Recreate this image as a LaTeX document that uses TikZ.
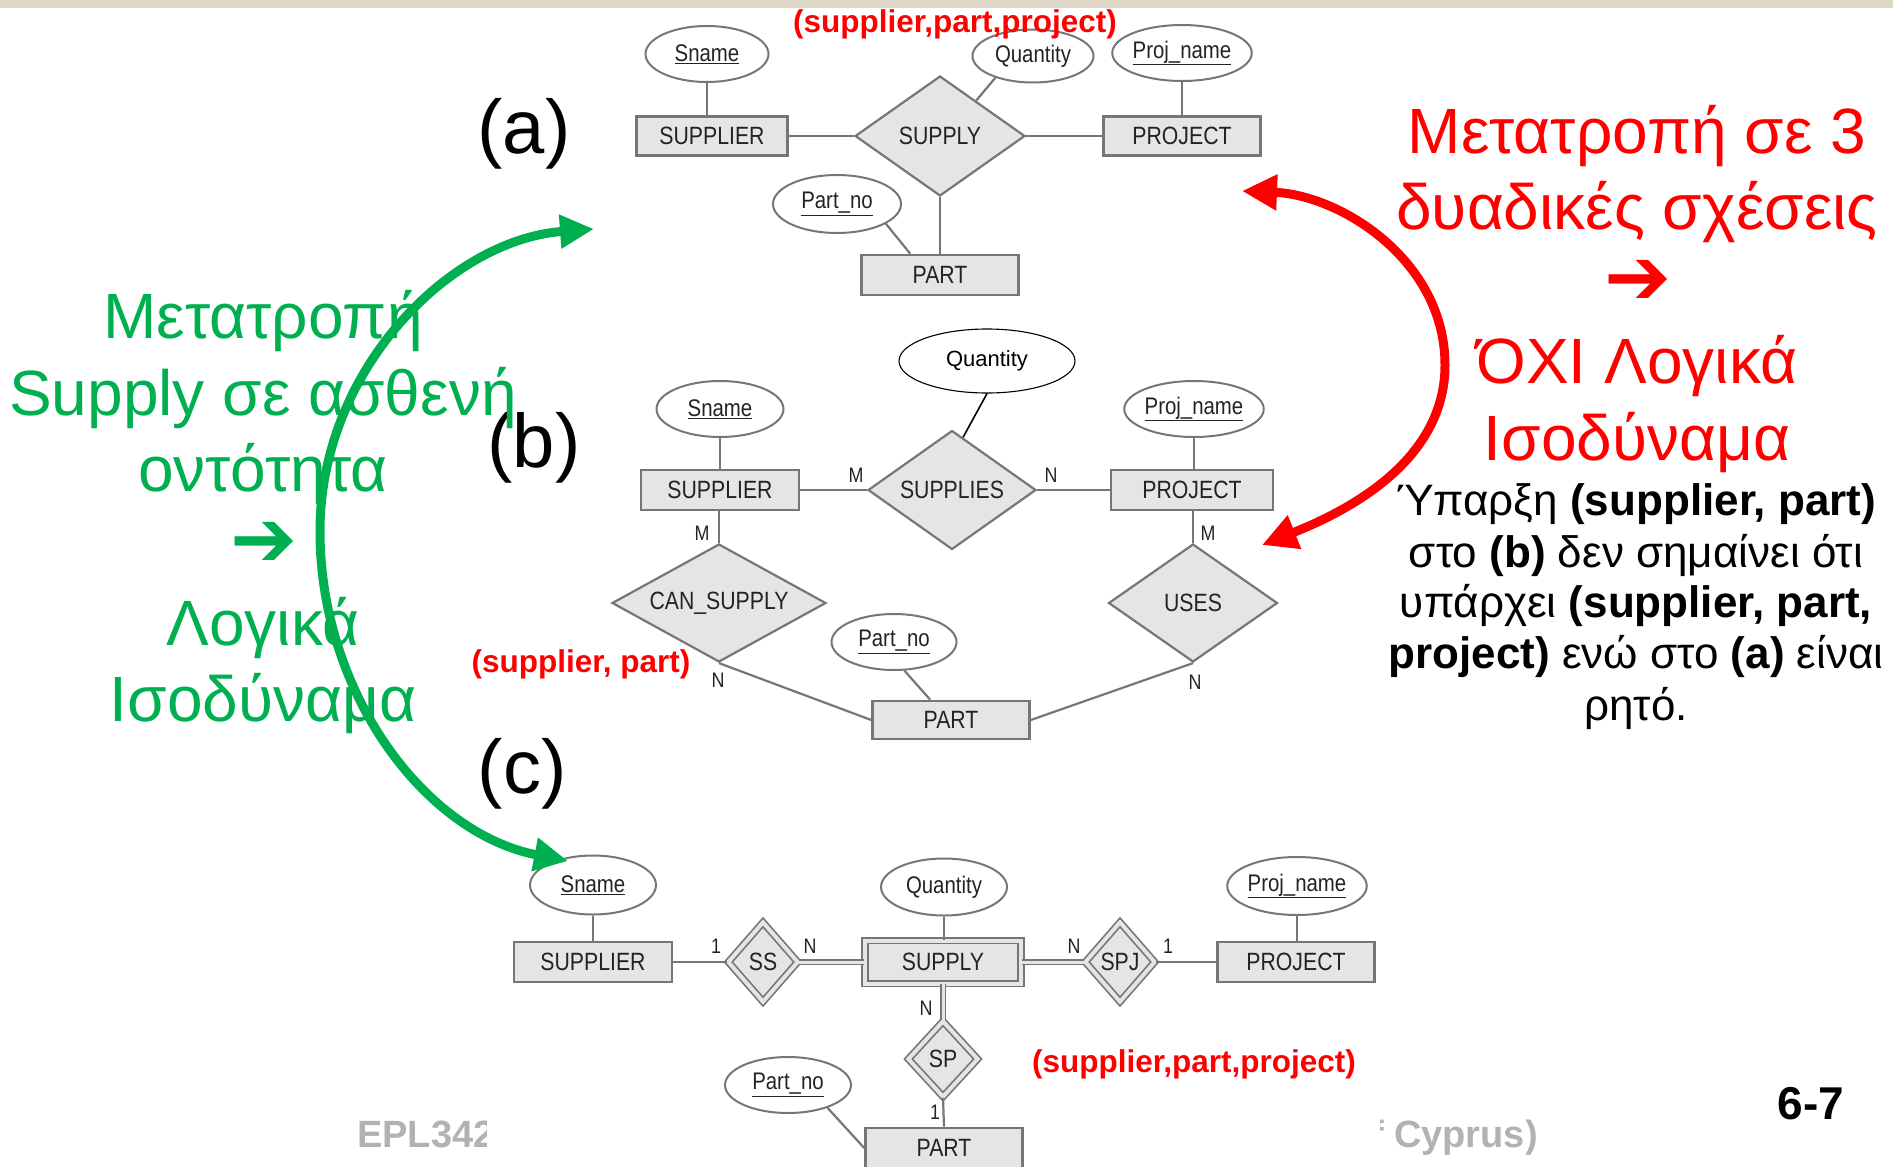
\documentclass[tikz,border=0pt]{standalone}
\usepackage{fontspec}
\setmainfont{Liberation Sans}
\newfontfamily\erfont[FakeStretch=0.85]{Liberation Sans}
\newfontfamily\symfont{DejaVu Sans}
\usetikzlibrary{shapes.geometric,arrows.meta,calc}
\newcommand{\setfs}[1]{\fontsize{#1}{#1}\selectfont}
\definecolor{bandbeige}{RGB}{222,215,199}
\definecolor{slidegreen}{RGB}{0,176,80}
\definecolor{slidered}{RGB}{255,0,0}
\definecolor{erstroke}{RGB}{118,118,118}
\definecolor{erfill}{RGB}{229,229,229}
\definecolor{ertext}{RGB}{35,35,35}
\definecolor{footgray}{RGB}{178,178,178}
\begin{document}
\begin{tikzpicture}[x=1pt,y=-1pt,
  ent/.style={rectangle, draw=erstroke, fill=erfill, line width=2.6pt, inner sep=0pt,
    font=\erfont\setfs{25}, text=ertext},
  went/.style={ent, line width=1.8pt, double=erfill, double distance=4pt},
  rel/.style={diamond, draw=erstroke, fill=erfill, line width=2.2pt, inner sep=0pt,
    font=\erfont\setfs{25}, text=ertext},
  wrel/.style={rel, line width=1.7pt, double=erfill, double distance=4pt},
  attr/.style={ellipse, draw=erstroke, fill=white, line width=2pt, inner sep=0pt,
    font=\erfont\setfs{24}, text=ertext},
  plainattr/.style={ellipse, draw=black, fill=white, line width=1.1pt, inner sep=0pt,
    font=\setfs{22}, text=black},
  conn/.style={draw=erstroke, line width=2.2pt},
  dconn/.style={draw=erstroke, line width=1.6pt, double=erfill, double distance=3pt},
  card/.style={inner sep=0pt, font=\erfont\setfs{21}, text=ertext},
  tag/.style={inner sep=0pt, font=\bfseries\setfs{31.5}, text=slidered},
  partlabel/.style={inner sep=0pt, font=\setfs{76}, text=black},
  greenline/.style={inner sep=0pt, font=\setfs{64}, text=slidegreen},
  redline/.style={inner sep=0pt, font=\setfs{64}, text=slidered},
  noteline/.style={inner sep=0pt, font=\setfs{44}, text=black},
  foot/.style={inner sep=0pt, font=\bfseries\setfs{38}, text=footgray},
  greenarc/.style={draw=slidegreen, line width=9pt,
    {Triangle[length=34pt,width=32pt]}-{Triangle[length=34pt,width=32pt]}},
  redarc/.style={draw=slidered, line width=9pt,
    {Triangle[length=35pt,width=34pt]}-{Triangle[length=35pt,width=34pt]}}
]
\useasboundingbox (0,0) rectangle (1893,1167);
\fill[bandbeige] (0,0) rectangle (1893,8);

% footer text partly hidden behind the diagrams
\begin{scope}
  \clip (300,1095) rectangle (486,1167);
  \node[foot, anchor=base west] (epl) at (357,1147) {EPL342};
\end{scope}
\begin{scope}
  \clip (1380,1095) rectangle (1600,1167);
  \node[foot, anchor=base east] (cyp) at (1538,1147) {f Cyprus)};
\end{scope}
\node[inner sep=0pt, font=\bfseries\setfs{46}, anchor=base] (pageno) at (1811,1119) {6-7};

% ---------- (a) ternary relationship ----------
\node[attr, minimum width=123pt, minimum height=56pt] (snA) at (707,54) {\underline{Sname}};
\node[attr, minimum width=121pt, minimum height=53pt] (qtyA) at (1033,56) {Quantity};
\node[attr, minimum width=123pt, minimum height=56pt] (pnA) at (1182,53) {\underline{Proj\_name}};
\node[ent, minimum width=151pt, minimum height=39pt] (supA) at (712,136) {SUPPLIER};
\node[rel, aspect=1.42, minimum width=170pt, minimum height=120pt] (supplyA) at (940,136) {SUPPLY};
\node[ent, minimum width=157pt, minimum height=39pt] (projA) at (1182,136) {PROJECT};
\node[attr, minimum width=128pt, minimum height=58pt] (partnoA) at (837,204) {\underline{Part\_no}};
\node[ent, minimum width=157pt, minimum height=40pt] (partA) at (940,275) {PART};
\draw[conn] (snA) -- (snA |- supA.north);
\draw[conn] (pnA) -- (pnA |- projA.north);
\draw[conn] (supA.east) -- (supplyA.west);
\draw[conn] (supplyA.east) -- (projA.west);
\draw[conn] (supplyA.south) -- (partA.north);
\draw[conn] (qtyA.210) -- ($(supplyA.north)!0.42!(supplyA.east)$);
\draw[conn] (partnoA.-22) -- ($(partA.north west)+(50,0)$);

% ---------- (b) three binary relationships ----------
\node[plainattr, minimum width=176pt, minimum height=64pt] (qtyB) at (987,361) {Quantity};
\node[attr, minimum width=127pt, minimum height=56pt] (snB) at (720,409) {\underline{Sname}};
\node[attr, minimum width=127pt, minimum height=56pt] (pnB) at (1194,409) {\underline{Proj\_name}};
\node[ent, minimum width=158pt, minimum height=40pt] (supB) at (720,490) {SUPPLIER};
\node[rel, aspect=1.41, minimum width=168pt, minimum height=119pt] (suppliesB) at (952,490) {SUPPLIES};
\node[ent, minimum width=162pt, minimum height=40pt] (projB) at (1192,490) {PROJECT};
\node[rel, aspect=1.81, minimum width=214pt, minimum height=118pt] (canB) at (719,603) {CAN\_SUPPLY};
\node[rel, aspect=1.43, minimum width=169pt, minimum height=118pt] (usesB) at (1193,603) {USES};
\node[attr, minimum width=125pt, minimum height=56pt] (partnoB) at (894,642) {\underline{Part\_no}};
\node[ent, minimum width=157pt, minimum height=38pt] (partB) at (951,720) {PART};
\draw[conn] (snB) -- (snB |- supB.north);
\draw[conn] (pnB) -- (pnB |- projB.north);
\draw[conn] (supB.east) -- (suppliesB.west);
\draw[conn] (suppliesB.east) -- (projB.west);
\draw[conn] (supB.south -| canB.north) -- (canB.north);
\draw[conn] (projB.south -| usesB.north) -- (usesB.north);
\draw[conn] (canB.south) -- (partB.west);
\draw[conn] (usesB.south) -- (partB.east);
\draw[conn] (partnoB.-70) -- ($(partB.north west)+(59,0)$);
\draw[draw=black, line width=1.6pt] (qtyB.south) -- ($(suppliesB.north)!0.13!(suppliesB.east)$);
\node[card] (mB1) at (856,475) {M};
\node[card] (nB1) at (1051,475) {N};
\node[card] (mB2) at (702,533) {M};
\node[card] (mB3) at (1208,533) {M};
\node[card] (nB2) at (718,680) {N};
\node[card] (nB3) at (1195,682) {N};

% ---------- (c) weak entity SUPPLY ----------
\node[attr, minimum width=126pt, minimum height=59pt] (snC) at (593,885) {\underline{Sname}};
\node[attr, minimum width=126pt, minimum height=57pt] (qtyC) at (944,887) {Quantity};
\node[attr, minimum width=126pt, minimum height=58pt] (pnC) at (1297,886) {\underline{Proj\_name}};
\node[ent, minimum width=158pt, minimum height=40pt] (supC) at (593,962) {SUPPLIER};
\node[wrel, aspect=0.88, minimum width=70pt, minimum height=80pt] (ssC) at (763,962) {SS};
\node[went, minimum width=156pt, minimum height=43pt] (supplyC) at (943,962) {SUPPLY};
\node[wrel, aspect=0.88, minimum width=70pt, minimum height=80pt] (spjC) at (1120,962) {SPJ};
\node[ent, minimum width=157pt, minimum height=40pt] (projC) at (1296,962) {PROJECT};
\node[wrel, aspect=0.92, minimum width=70pt, minimum height=76pt] (spC) at (943,1059) {SP};
\node[attr, minimum width=126pt, minimum height=56pt] (partnoC) at (788,1085) {\underline{Part\_no}};
\node[ent, minimum width=157pt, minimum height=40pt] (partC) at (944,1148) {PART};
\draw[conn] (snC) -- (snC |- supC.north);
\draw[conn] (qtyC) -- (qtyC |- supplyC.north);
\draw[conn] (pnC) -- (pnC |- projC.north);
\draw[conn] (supC.east) -- (ssC.west);
\draw[dconn] (ssC.east) -- (supplyC.west);
\draw[dconn] (supplyC.east) -- (spjC.west);
\draw[conn] (spjC.east) -- (projC.west);
\draw[dconn] (supplyC.south) -- (spC.north);
\draw[conn] (spC.south) -- (partC.north);
\draw[conn] (partnoC.-30) -- (partC.west);
\node[card] (oneC1) at (716,946) {1};
\node[card] (nC1) at (810,946) {N};
\node[card] (nC2) at (1074,946) {N};
\node[card] (oneC2) at (1168,946) {1};
\node[card] (nC3) at (926,1008) {N};
\node[card] (oneC3) at (935,1112) {1};

% ---------- part labels and red tuple notes ----------
\node[partlabel, anchor=base] (labA) at (524,153) {(a)};
\node[partlabel, anchor=base] (labB) at (534,467) {(b)};
\node[partlabel, anchor=base] (labC) at (522,793) {(c)};
\node[tag, anchor=base] (tagA) at (955,32) {(supplier,part,project)};
\node[tag, anchor=base] (tagB) at (581,672) {(supplier, part)};
\node[tag, anchor=base] (tagC) at (1194,1072) {(supplier,part,project)};

% ---------- left note (green) ----------
\node[greenline, anchor=base] (g1) at (263,338) {Μετατροπή};
\node[greenline, anchor=base] (g2) at (263,415) {Supply σε ασθενή};
\node[greenline, anchor=base] (g3) at (263,491) {οντότητα};
\node[greenline, font=\symfont\bfseries\setfs{80}] (g4) at (264,544) {➔};
\node[greenline, anchor=base] (g5) at (263,645) {Λογικά};
\node[greenline, anchor=base] (g6) at (263,721) {Ισοδύναμα};

% ---------- right note (red and black) ----------
\node[redline, anchor=base] (r1) at (1637,153) {Μετατροπή σε 3};
\node[redline, anchor=base] (r2) at (1637,229) {δυαδικές σχέσεις};
\node[redline, font=\symfont\bfseries\setfs{80}] (r3) at (1638,282) {➔};
\node[redline, anchor=base] (r4) at (1637,383) {ΌΧΙ Λογικά};
\node[redline, anchor=base] (r5) at (1637,460) {Ισοδύναμα};
\node[noteline, anchor=base] (b1) at (1636,515) {Ύπαρξη \textbf{(supplier, part)}};
\node[noteline, anchor=base] (b2) at (1636,567) {στο \textbf{(b)} δεν σημαίνει ότι};
\node[noteline, anchor=base] (b3) at (1636,617) {υπάρχει \textbf{(supplier, part,}};
\node[noteline, anchor=base] (b4) at (1636,668) {\textbf{project)} ενώ στο \textbf{(a)} είναι};
\node[noteline, anchor=base] (b5) at (1636,720) {ρητό.};

% ---------- curved arrows ----------
\coordinate (gtop) at (594,229);
\coordinate (gbot) at (568,861);
\draw[greenarc] (gtop) .. controls (450,240) and (320,370) .. (320,531)
  .. controls (320,693) and (425,833) .. (gbot);
\coordinate (rtop) at (1242,191);
\coordinate (rbot) at (1262,545);
\draw[redarc] (rtop) .. controls (1340,195) and (1445,260) .. (1445,365)
  .. controls (1445,460) and (1350,510) .. (rbot);
\end{tikzpicture}
\end{document}
